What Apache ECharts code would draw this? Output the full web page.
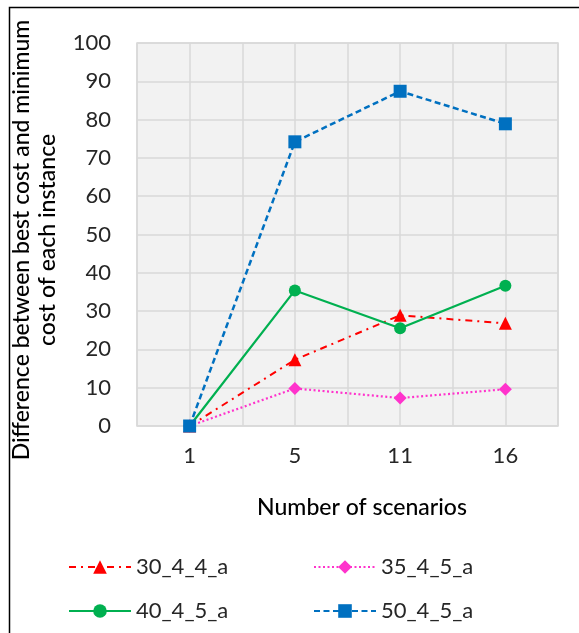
<!DOCTYPE html>
<html>
<head>
<meta charset="utf-8">
<script src="https://cdn.jsdelivr.net/npm/echarts@6/dist/echarts.min.js"></script>
<style>html,body{margin:0;padding:0;background:#fff}#c{width:579px;height:633px}</style>
</head>
<body>
<div id="c"></div>
<script>
const categories = ['1', '5', '11', '16'];
const s30_4_4_a = [0, 17.3, 28.9, 26.8];
const s35_4_5_a = [0, 9.8, 7.3, 9.6];
const s40_4_5_a = [0, 35.4, 25.5, 36.6];
const s50_4_5_a = [0, 74.2, 87.4, 78.9];
const yTicks = [0, 10, 20, 30, 40, 50, 60, 70, 80, 90, 100];
const yTitle = 'Difference between best cost and minimum\ncost of each instance';
const xTitle = 'Number of scenarios';

const FONT = 'Lato';
const chart = echarts.init(document.getElementById('c'), null, {renderer: 'canvas'});
const gridLine = {show: true, lineStyle: {color: '#d9d9d9', width: 1.5}};
function legendAt(name, left, top) {
  return {
    data: [name], left: left, top: top, padding: 0, itemWidth: 62, itemHeight: 17, itemGap: 6,
    textStyle: {fontFamily: FONT, fontSize: 22, color: '#262626'}
  };
}
chart.setOption({
  animation: false,
  grid: {left: 137, right: 21, top: 43, bottom: 207, show: true,
         backgroundColor: '#f2f2f2', borderColor: '#d9d9d9', borderWidth: 1.5},
  xAxis: [{
    type: 'category', data: categories, boundaryGap: true,
    axisLine: {show: false}, axisTick: {show: false}, splitLine: {show: false},
    axisLabel: {fontFamily: FONT, fontSize: 22, color: '#262626', margin: 19}
  }, {
    type: 'value', min: 0, max: 8, interval: 1, position: 'bottom',
    axisLine: {show: false}, axisTick: {show: false}, axisLabel: {show: false},
    splitLine: gridLine
  }],
  yAxis: {
    type: 'value', min: yTicks[0], max: yTicks[yTicks.length - 1], interval: 10,
    axisLine: {show: false}, axisTick: {show: false},
    axisLabel: {fontFamily: FONT, fontSize: 22, color: '#262626', margin: 26},
    splitLine: gridLine
  },
  legend: [
    legendAt('30_4_4_a', 68, 556),
    legendAt('35_4_5_a', 313, 556),
    legendAt('40_4_5_a', 68, 600),
    legendAt('50_4_5_a', 313, 600)
  ],
  series: [
    {name: '30_4_4_a', type: 'line', data: s30_4_4_a, symbol: 'triangle', symbolSize: 13,
     itemStyle: {color: '#ff0000'}, lineStyle: {color: '#ff0000', width: 2, type: [7, 5, 2, 5]}, z: 3},
    {name: '35_4_5_a', type: 'line', data: s35_4_5_a, symbol: 'diamond', symbolSize: 13,
     itemStyle: {color: '#ff33cc'}, lineStyle: {color: '#ff33cc', width: 2.2, type: [2, 2.5]}, z: 2},
    {name: '40_4_5_a', type: 'line', data: s40_4_5_a, symbol: 'circle', symbolSize: 12,
     itemStyle: {color: '#00b050'}, lineStyle: {color: '#00b050', width: 2.2, type: 'solid'}, z: 4},
    {name: '50_4_5_a', type: 'line', data: s50_4_5_a, symbol: 'rect', symbolSize: 13,
     itemStyle: {color: '#0070c0'}, lineStyle: {color: '#0070c0', width: 2.5, type: [6, 3.5]}, z: 5}
  ],
  graphic: [
    {type: 'rect', left: 7, top: 5, silent: true,
     shape: {width: 700, height: 800}, style: {fill: 'none', stroke: '#000', lineWidth: 1.5}},
    {type: 'text', x: 35, y: 240, rotation: Math.PI / 2, silent: true,
     style: {text: yTitle, fontFamily: FONT, fontSize: 23, fontWeight: 500, fill: '#000',
             align: 'center', verticalAlign: 'middle', lineHeight: 26}},
    {type: 'text', x: 362, y: 508, silent: true,
     style: {text: xTitle, fontFamily: FONT, fontSize: 23, fontWeight: 500, fill: '#000',
             align: 'center', verticalAlign: 'middle'}}
  ]
});
</script>
</body>
</html>
